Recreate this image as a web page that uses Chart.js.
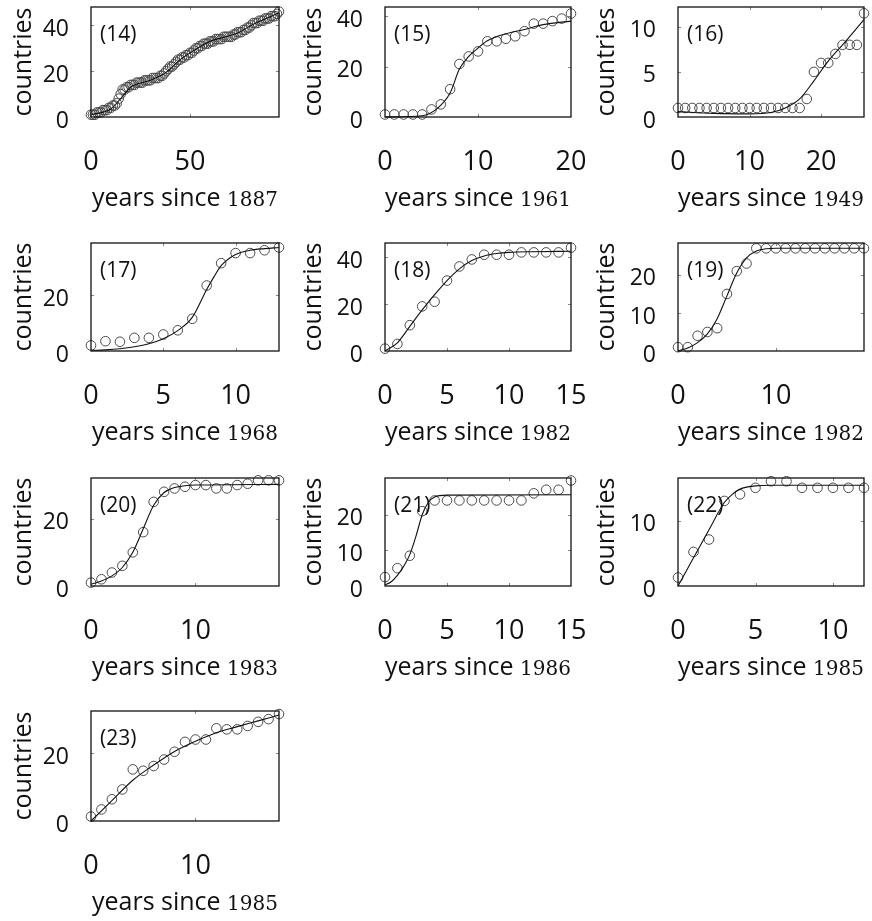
<!DOCTYPE html>
<html>
<head>
<meta charset="utf-8">
<script src="https://cdn.jsdelivr.net/npm/chart.js@4.4.0/dist/chart.umd.min.js"></script>
<style>
  html, body { margin: 0; padding: 0; background: #fff; }
  #page { position: relative; width: 872px; height: 921px; overflow: hidden; background: #fff; }
  #page canvas { position: absolute; }
</style>
</head>
<body>
<div id="page"></div>
<script>
// ---- data ----
const panelIds = ['(14)', '(15)', '(16)', '(17)', '(18)', '(19)', '(20)', '(21)', '(22)', '(23)'];
const startYears = [1887, 1961, 1949, 1968, 1982, 1982, 1983, 1986, 1985, 1985];

// countries per year (x = years since start year, one value per year)
const countries14 = [1, 1, 1, 2, 2, 2, 3, 3, 3, 4, 4, 5, 5, 6, 8, 10, 12, 12, 13, 13, 14, 14, 14,
  15, 15, 15, 15, 16, 16, 16, 16, 17, 17, 17, 17, 18, 18, 19, 20, 21, 22, 22, 23, 24, 25, 25, 26,
  26, 27, 27, 28, 28, 29, 30, 30, 31, 31, 32, 32, 32, 33, 33, 33, 34, 34, 34, 34, 35, 35, 35, 35,
  35, 36, 36, 37, 37, 37, 38, 38, 39, 39, 40, 41, 41, 41, 42, 42, 42, 43, 43, 43, 44, 44, 44, 45, 46];
const countries15 = [1, 1, 1, 1, 1, 3, 5, 11, 21, 24, 26, 30, 30, 31, 32, 34, 37, 37, 38, 39, 41];
const countries16 = [1, 1, 1, 1, 1, 1, 1, 1, 1, 1, 1, 1, 1, 1, 1, 1, 1, 1, 2, 5, 6, 6, 7, 8, 8, 8, 11.5];
const countries17 = [2, 3.5, 3.3, 4.7, 4.7, 5.9, 7.4, 11.5, 23.4, 31.4, 35, 35, 36, 37];
const countries18 = [1, 3, 11, 19, 21, 30, 36, 39, 41, 41, 41, 42, 42, 42, 42, 44];
const countries19 = [1, 1, 4, 5, 6, 15, 21, 23, 27, 27, 27, 27, 27, 27, 27, 27, 27, 27, 27, 27];
const countries20 = [1, 2, 4, 6, 10, 16, 25, 28, 29, 29.5, 30, 30, 29, 29, 30, 30.4, 31.4, 31.4, 31.4];
const countries21 = [2.5, 5, 8.5, 21, 24, 24, 24, 24, 24, 24, 24, 24, 26, 27, 27, 29.6];
const countries22 = [1.3, 5.2, 7.1, 13, 14, 15, 16, 16, 15, 15, 15, 15, 15];
const countries23 = [1.3, 3.4, 6.4, 9.3, 15.2, 14.8, 16.2, 18.1, 20.4, 23.3, 24, 24, 27.3, 27, 27, 28, 29.2, 30, 31.5];

// fitted curves (x, y)
const fitX14 = [0, 10, 15, 20, 30, 38, 45, 52, 60, 68, 75, 82, 90, 95];
const fitY14 = [1, 3.5, 8, 13, 16, 19.5, 25, 29, 33, 35, 37, 40.5, 43.5, 45.5];
const fitX15 = [0, 4, 5.5, 7, 8, 9, 10, 11, 13, 15, 17, 20];
const fitY15 = [0, 0.5, 3, 9.5, 19, 24, 27.3, 30.2, 33, 34.7, 36.6, 38];
const fitX16 = [0, 5, 10, 13, 15, 17, 19, 21, 23, 26];
const fitY16 = [0.6, 0.4, 0.35, 0.5, 1, 2, 4, 6.2, 8, 10.8];
const fitX17 = [0, 1, 2, 3, 4, 5, 6, 7, 8, 8.5, 9, 10, 11, 12, 13];
const fitY17 = [0.2, 0.4, 0.8, 1.5, 2.6, 4.4, 7.3, 12, 22, 26.5, 30.5, 34.5, 36, 36.6, 37];
const fitX18 = [0, 1, 2, 3, 4, 5, 6, 7, 8, 9, 10, 12, 15];
const fitY18 = [0, 3.5, 10.5, 17.5, 24, 30, 35, 38.5, 40.5, 41.5, 42, 42.3, 42.5];
const fitX19 = [0, 1, 2, 3, 4, 5, 6, 7, 8, 9, 10, 19];
const fitY19 = [0, 0.8, 2.2, 4.5, 8.5, 14.5, 20.5, 24.5, 26.3, 26.9, 27, 27];
const fitX20 = [0, 1, 2, 3, 4, 5, 6, 7, 8, 9, 10, 18];
const fitY20 = [0.5, 1.5, 3, 5.5, 10, 17, 24, 27.8, 29.3, 29.8, 30, 30.2];
const fitX21 = [0, 0.5, 1, 1.5, 2, 2.5, 3, 3.5, 4, 5, 15];
const fitY21 = [0.3, 1.2, 3, 5.5, 8.8, 14, 20, 23.5, 25, 25.5, 25.6];
const fitX22 = [0, 1, 2, 3, 3.5, 4, 5, 6, 12];
const fitY22 = [0, 4.3, 8.6, 12.8, 14, 14.8, 15.3, 15.4, 15.4];
const fitX23 = [0, 2, 4, 6, 8, 10, 12, 14, 16, 18];
const fitY23 = [0, 6, 12, 16.5, 20.5, 23.5, 26, 27.8, 29.5, 31.2];

// axis ranges and tick labels
const yMaxes = [48, 43.6, 12.2, 38.6, 46, 28.4, 32.1, 30.3, 16.5, 32.4];
const xTicks = [[0, 50], [0, 10, 20], [0, 10, 20], [0, 5, 10], [0, 5, 10, 15], [0, 10], [0, 10], [0, 5, 10, 15], [0, 5, 10], [0, 10]];
const yTicks = [[0, 20, 40], [0, 20, 40], [0, 5, 10], [0, 20], [0, 20, 40], [0, 10, 20], [0, 20], [0, 10, 20], [0, 10], [0, 20]];

const allCountries = [countries14, countries15, countries16, countries17, countries18,
  countries19, countries20, countries21, countries22, countries23];
const allFitX = [fitX14, fitX15, fitX16, fitX17, fitX18, fitX19, fitX20, fitX21, fitX22, fitX23];
const allFitY = [fitY14, fitY15, fitY16, fitY17, fitY18, fitY19, fitY20, fitY21, fitY22, fitY23];

// ---- page layout (pixels) ----
// canvases overlap a little to the right so edge tick labels are not cut
const colLeft = [0, 290, 580], colWidth = [310, 310, 292];
const boxLeft = [91, 385, 678], boxRight = [279, 571, 864];
const canvasTop = [0, 236, 471, 704], canvasBottom = [217, 451, 686, 921];
const boxTop = [7, 243, 478, 711], boxBottom = [117, 351, 586, 821];
const yTitlePad = [9, 9, 12];

Chart.defaults.font.family = '"Open Sans", sans-serif';
Chart.defaults.color = '#111';

// box, inward ticks, panel id and the two-font x title
const framePlugin = {
  id: 'frame',
  afterDraw(chart, args, opts) {
    const { ctx, chartArea: a, scales: { x, y } } = chart;
    ctx.save();
    ctx.strokeStyle = '#888';
    ctx.lineWidth = 1;
    ctx.beginPath();
    x.ticks.forEach(t => {
      const px = Math.round(x.getPixelForValue(t.value)) + 0.5;
      if (px <= a.left + 2 || px >= a.right - 2) return;
      ctx.moveTo(px, a.bottom); ctx.lineTo(px, a.bottom - 3);
      ctx.moveTo(px, a.top); ctx.lineTo(px, a.top + 3);
    });
    y.ticks.forEach(t => {
      const py = Math.round(y.getPixelForValue(t.value)) + 0.5;
      if (py <= a.top + 2 || py >= a.bottom - 2) return;
      ctx.moveTo(a.left, py); ctx.lineTo(a.left + 3, py);
      ctx.moveTo(a.right, py); ctx.lineTo(a.right - 3, py);
    });
    ctx.stroke();

    ctx.strokeStyle = '#111';
    ctx.lineWidth = 1.3;
    ctx.strokeRect(a.left, a.top, a.width, a.height);

    ctx.fillStyle = '#111';
    ctx.textAlign = 'left';
    ctx.textBaseline = 'middle';
    ctx.font = '21px "Open Sans"';
    ctx.fillText(opts.label, a.left + 9, a.top + 28);

    const part1 = 'years since ';
    const part2 = String(opts.year);
    ctx.textBaseline = 'alphabetic';
    ctx.font = '25px "Open Sans"';
    const w1 = ctx.measureText(part1).width;
    ctx.font = '20px "DejaVu Serif"';
    const w2 = ctx.measureText(part2).width;
    const sx = (a.left + a.right) / 2 - (w1 + w2) / 2;
    const by = a.bottom + 89;
    ctx.font = '25px "Open Sans"';
    ctx.fillText(part1, sx, by);
    ctx.font = '20px "DejaVu Serif"';
    ctx.fillText(part2, sx + w1, by);
    ctx.restore();
  }
};

// drop the extra room Chart.js keeps for half-labels at the axis ends
function noEdgePadding(s) {
  s.paddingTop = 0;
  s.paddingBottom = 0;
  s.paddingLeft = 0;
  s.paddingRight = 0;
}

const page = document.getElementById('page');

panelIds.forEach((id, i) => {
  const col = i % 3, row = Math.floor(i / 3);
  const w = colWidth[col];
  const h = canvasBottom[row] - canvasTop[row];
  const cv = document.createElement('canvas');
  cv.width = w; cv.height = h;
  cv.style.left = colLeft[col] + 'px';
  cv.style.top = canvasTop[row] + 'px';
  cv.style.width = w + 'px';
  cv.style.height = h + 'px';
  page.appendChild(cv);

  const counts = allCountries[i];
  const points = counts.map((c, k) => ({ x: k, y: c }));
  const fit = allFitX[i].map((fx, k) => ({ x: fx, y: allFitY[i][k] }));
  const xt = xTicks[i], yt = yTicks[i];
  const yAxisWidth = boxLeft[col] - colLeft[col];
  const xAxisHeight = canvasBottom[row] - boxBottom[row];

  new Chart(cv, {
    type: 'scatter',
    data: {
      datasets: [{
        type: 'line',
        data: fit,
        borderColor: '#111',
        borderWidth: 1.1,
        pointRadius: 0,
        cubicInterpolationMode: 'monotone',
        fill: false,
        clip: false
      }, {
        data: points,
        pointRadius: 4.8,
        pointBorderWidth: 1,
        pointBorderColor: '#4a4a4a',
        borderColor: '#4a4a4a',
        pointBackgroundColor: 'rgba(0,0,0,0)',
        backgroundColor: 'rgba(0,0,0,0)',
        clip: false
      }]
    },
    options: {
      responsive: false,
      animation: false,
      events: [],
      layout: {
        padding: {
          left: 0,
          top: boxTop[row] - canvasTop[row],
          right: colLeft[col] + w - boxRight[col],
          bottom: 0
        }
      },
      plugins: {
        legend: { display: false },
        tooltip: { enabled: false },
        frame: { label: id, year: startYears[i] }
      },
      scales: {
        x: {
          type: 'linear',
          min: 0,
          max: counts.length - 1,
          grid: { display: false },
          border: { display: false },
          afterBuildTicks: s => { s.ticks = xt.map(v => ({ value: v })); },
          afterFit: s => { s.height = xAxisHeight; noEdgePadding(s); },
          ticks: { autoSkip: false, maxRotation: 0, padding: 21, font: { size: 27 }, color: '#111' }
        },
        y: {
          min: 0,
          max: yMaxes[i],
          grid: { display: false },
          border: { display: false },
          afterBuildTicks: s => { s.ticks = yt.map(v => ({ value: v })); },
          afterFit: s => { s.width = yAxisWidth; noEdgePadding(s); },
          ticks: { autoSkip: false, padding: 14, labelOffset: 4, font: { size: 23 }, color: '#111' },
          title: {
            display: true,
            text: 'countries',
            font: { size: 25 },
            color: '#111',
            padding: { top: yTitlePad[col], bottom: 0 }
          }
        }
      }
    },
    plugins: [framePlugin]
  });
});
</script>
</body>
</html>
